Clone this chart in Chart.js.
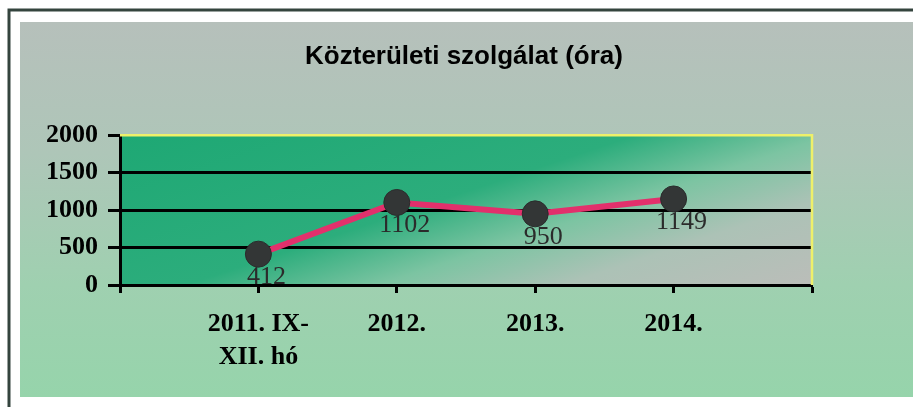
<!DOCTYPE html>
<html>
<head>
<meta charset="utf-8">
<script src="https://cdn.jsdelivr.net/npm/chart.js@4"></script>
<style>
  html, body { margin: 0; padding: 0; background: #fff; }
</style>
</head>
<body>
<canvas id="mycanvas" width="913" height="407"></canvas>
<script>
var chartTitle = 'Közterületi szolgálat (óra)';
var categories = [['2011. IX-', 'XII. hó'], '2012.', '2013.', '2014.'];
var hours = [412, 1102, 950, 1149];
var yTicks = [0, 500, 1000, 1500, 2000];

// points sit on 1..4 of a 0..5 axis, like the original sheet
var points = [];
for (var i in hours) {
  points.push({ x: Number(i) + 1, y: hours[i] });
}

var bgPlugin = {
  id: 'bg',
  beforeDraw: function(chart) {
    var c = chart.ctx;
    c.save();
    c.fillStyle = '#ffffff';
    c.fillRect(0, 0, chart.width, chart.height);
    // panel
    var g = c.createLinearGradient(0, 22, 0, 397);
    g.addColorStop(0, '#b6c0bb');
    g.addColorStop(0.35, '#aec6b8');
    g.addColorStop(0.7, '#9fd0b0');
    g.addColorStop(1, '#96d4ab');
    c.fillStyle = g;
    c.fillRect(20, 22, chart.width - 20, 375);
    // frame
    c.strokeStyle = '#34443e';
    c.lineWidth = 3;
    c.beginPath();
    c.moveTo(9, chart.height);
    c.lineTo(9, 10);
    c.lineTo(chart.width, 10);
    c.stroke();
    // plot area fill, green top-left fading to grey bottom-right
    var a = chart.chartArea;
    var pg = c.createLinearGradient(a.left, a.top, a.left + 114, a.top + 343);
    pg.addColorStop(0, '#1ea874');
    pg.addColorStop(0.45, '#2cad7c');
    pg.addColorStop(0.62, '#7cc4a2');
    pg.addColorStop(0.78, '#acc2b6');
    pg.addColorStop(1, '#bbbdb9');
    c.fillStyle = pg;
    c.fillRect(a.left, a.top, a.right - a.left, a.bottom - a.top);
    c.restore();
  },
  beforeDatasetsDraw: function(chart) {
    var c = chart.ctx, a = chart.chartArea;
    c.save();
    c.strokeStyle = '#eef06a';
    c.lineWidth = 2.5;
    c.beginPath();
    c.moveTo(a.left, a.top);
    c.lineTo(a.right, a.top);
    c.lineTo(a.right, a.bottom);
    c.stroke();
    c.restore();
  },
  afterDatasetsDraw: function(chart) {
    var c = chart.ctx;
    var meta = chart.getDatasetMeta(0);
    c.save();
    c.font = '26px "Liberation Serif", "Times New Roman", serif';
    c.fillStyle = '#2b2b2b';
    c.textAlign = 'center';
    c.textBaseline = 'middle';
    meta.data.forEach(function(pt, idx) {
      c.fillText(String(hours[idx]), pt.x + 8, pt.y + 23);
    });
    c.restore();
  }
};

var ctx = document.getElementById('mycanvas');

var lineChart = new Chart(ctx, {
  type: 'scatter',
  data: {
    datasets: [{
      label: chartTitle,
      data: points,
      showLine: true,
      borderColor: '#e2306c',
      borderWidth: 6,
      pointRadius: 13,
      pointHoverRadius: 13,
      pointBackgroundColor: '#333636',
      pointBorderColor: '#2a2c2c',
      pointBorderWidth: 1
    }]
  },
  plugins: [bgPlugin],
  options: {
    responsive: false,
    animation: false,
    layout: { padding: { left: 15, right: 0, top: 0, bottom: 0 } },
    plugins: {
      legend: { display: false },
      tooltip: { enabled: false },
      title: {
        display: true,
        text: chartTitle,
        color: '#000',
        font: { family: '"Liberation Sans", Arial, sans-serif', size: 26, weight: 'bold' },
        padding: { top: 41, bottom: 63 }
      }
    },
    scales: {
      x: {
        type: 'linear',
        min: 0,
        max: 5,
        afterFit: function(scale) { scale.height = 122; },
        afterBuildTicks: function(scale) {
          scale.ticks = [0, 1, 2, 3, 4, 5].map(function(v) { return { value: v }; });
        },
        ticks: {
          autoSkip: false,
          maxRotation: 0,
          padding: 14,
          color: '#000',
          font: { family: '"Liberation Serif", "Times New Roman", serif', size: 26, weight: 'bold', lineHeight: 1.3 },
          callback: function(v) {
            var k = Math.round(v) - 1;
            return (k >= 0 && k < categories.length) ? categories[k] : '';
          }
        },
        grid: {
          drawOnChartArea: false,
          drawTicks: true,
          tickLength: 8,
          tickColor: '#000',
          tickWidth: 3
        },
        border: { display: true, color: '#000', width: 3 }
      },
      y: {
        min: 0,
        max: 2000,
        afterFit: function(scale) { scale.width = 105; },
        afterBuildTicks: function(scale) {
          scale.ticks = yTicks.map(function(v) { return { value: v }; });
        },
        ticks: {
          padding: 10,
          color: '#000',
          font: { family: '"Liberation Serif", "Times New Roman", serif', size: 26, weight: 'bold' },
          callback: function(v) { return String(v); }
        },
        grid: {
          drawTicks: true,
          tickLength: 12,
          tickColor: '#000',
          tickWidth: 3,
          lineWidth: 3,
          color: function(c) {
            return (c.tick && c.tick.value === 2000) ? 'rgba(0,0,0,0)' : '#000';
          }
        },
        border: { display: true, color: '#000', width: 3 }
      },
      // empty space on the right of the plot
      yRight: {
        position: 'right',
        display: true,
        afterFit: function(scale) { scale.width = 101; },
        ticks: { display: false },
        grid: { display: false, drawOnChartArea: false },
        border: { display: false }
      }
    }
  }
});
</script>
</body>
</html>
